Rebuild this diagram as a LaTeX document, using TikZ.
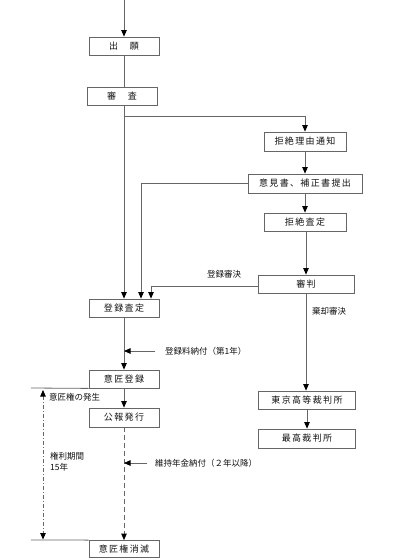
\documentclass[tikz,border=0pt]{standalone}
\usepackage{fontspec}
\usetikzlibrary{arrows.meta}
\newfontfamily\jpfont{Noto Sans CJK JP}
\newfontfamily\jpbox[LetterSpace=15]{Noto Sans CJK JP}
\definecolor{linec}{HTML}{666666}
\definecolor{textc}{HTML}{111111}
\tikzset{tip/.tip={Triangle[length=6.5pt,width=5.5pt,color=black]}}
\begin{document}
\begin{tikzpicture}[x=1pt,y=-1pt,
  box/.style={draw=linec, line width=0.8pt, inner sep=0pt, minimum width=70pt, minimum height=18pt,
    font=\jpbox\fontsize{9}{11}\selectfont, text=textc},
  lbl/.style={inner sep=0pt, font=\jpfont\fontsize{8.5}{11}\selectfont, text=textc},
  conn/.style={draw=linec, line width=0.8pt},
  arr/.style={conn, -tip},
]
\useasboundingbox (0,0) rectangle (400,560);
% left column boxes
\node[box] (shutsugan) at (124,46) {出　願};
\node[box] (shinsa) at (122,96.5) {審　査};
\node[box] (torokusatei) at (124,308) {登録査定};
\node[box] (isho) at (124,379) {意匠登録};
\node[box, minimum height=19pt] (koho) at (124,417.5) {公報発行};
\node[box, minimum height=17pt] (shometsu) at (124,549) {意匠権消滅};
% right column boxes
\node[box, minimum width=82pt, minimum height=19pt] (riyu) at (305,141.5) {拒絶理由通知};
\node[box, minimum width=114pt, minimum height=19pt] (iken) at (305,183.5) {意見書、補正書提出};
\node[box, minimum width=82pt] (kyozetsu) at (305,222) {拒絶査定};
\node[box, minimum width=96pt] (shinpan) at (306,284) {審判};
\node[box, minimum width=97pt] (tokyo) at (307,400) {東京高等裁判所};
\node[box, minimum width=97pt, minimum height=19pt] (saiko) at (307,438.5) {最高裁判所};
% labels
\node[lbl] (lbtoroku) at (224,274) {登録審決};
\node[lbl, anchor=west] (lbkikyaku) at (312,311) {棄却審決};
\node[lbl, anchor=west] (lbfee) at (165,351) {登録料納付（第1年）};
\node[lbl, anchor=west] (lbnenkin) at (155,463) {維持年金納付（２年以降）};
\node[lbl, anchor=west] (lbhassei) at (49,397) {意匠権の発生};
\node[lbl, anchor=north west, align=left] (lbkikan) at (50,452) {権利期間\\15年};
% coordinates
\coordinate (top) at (124,0);
\coordinate (branch) at (124,116);
\coordinate (feeS) at (155,351);
\coordinate (feeE) at (124,351);
\coordinate (nenS) at (147,463);
\coordinate (nenE) at (124,463);
\coordinate (hL) at (31,388);
\coordinate (eL) at (31,540);
\coordinate (dTop) at (43,390);
\coordinate (dBot) at (43,539.5);
% connectors
\draw[arr] (top) -- (shutsugan.north);
\draw[conn] (shutsugan.south) -- (shutsugan.south |- shinsa.north);
\draw[arr] (shutsugan.south |- shinsa.south) -- (torokusatei.north);
\draw[arr] (branch) -| (riyu.north);
\draw[arr] (riyu.south) -- (iken.north);
\draw[arr] (iken.south) -- (kyozetsu.north);
\draw[arr] (iken.west) -| ([xshift=17pt]torokusatei.north);
\draw[arr] (kyozetsu.south -| shinpan.north) -- (shinpan.north);
\draw[arr] ([yshift=-2pt]shinpan.west) -| ([xshift=27pt]torokusatei.north);
\draw[arr] (shinpan.south) -- (shinpan.south |- tokyo.north);
\draw[arr] (tokyo.south) -- (saiko.north);
\draw[arr] (torokusatei.south) -- (isho.north);
\draw[arr] (feeS) -- (feeE);
\draw[arr] (isho.south) -- (koho.north);
\draw[arr, dash pattern=on 5pt off 3pt] (koho.south) -- (shometsu.north);
\draw[arr] (nenS) -- (nenE);
\draw[conn] (hL) -- (isho.south west);
\draw[conn] (eL) -- (shometsu.north west);
\draw[conn, tip-tip, dash pattern=on 4pt off 2pt on 1pt off 2pt] (dTop) -- (dBot);
\end{tikzpicture}
\end{document}
